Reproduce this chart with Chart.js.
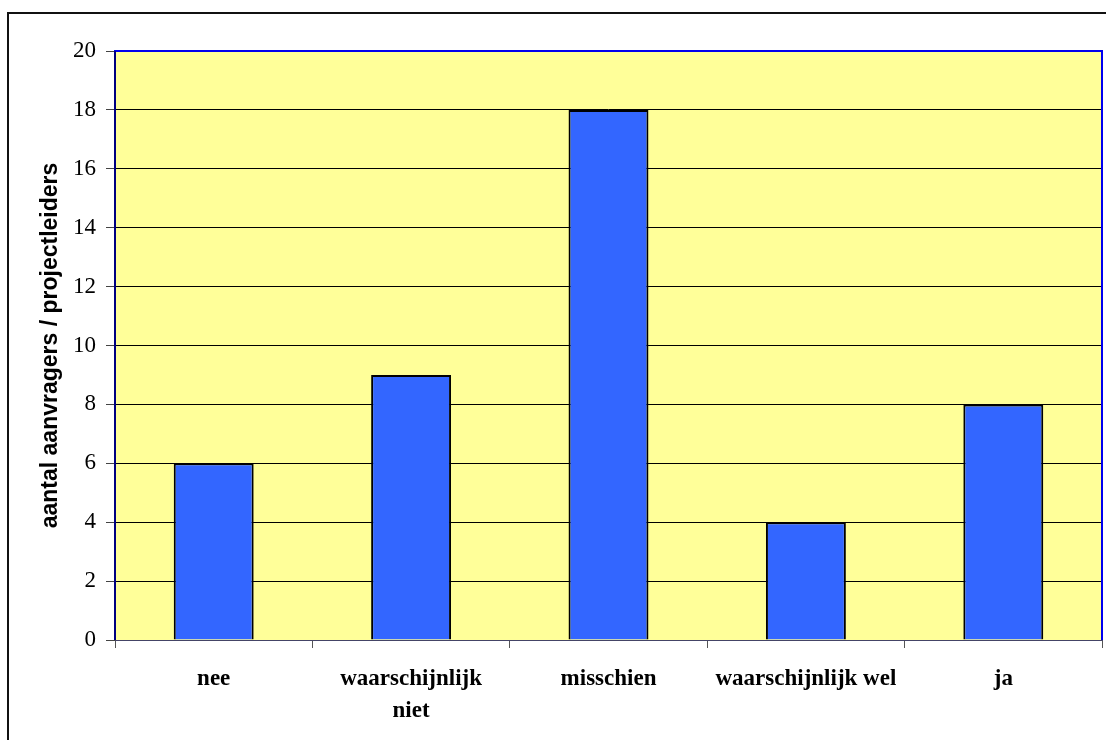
<!DOCTYPE html>
<html>
<head>
<meta charset="utf-8">
<script src="https://cdn.jsdelivr.net/npm/chart.js@4.4.0/dist/chart.umd.min.js"></script>
<style>
    html, body { margin: 0; padding: 0; background: #fff; }
    #wrap { position: relative; width: 1106px; height: 740px; overflow: hidden; }
    #frame { position: absolute; left: 7px; top: 12px; width: 1200px; height: 800px;
             border-left: 2px solid #111; border-top: 2px solid #111; pointer-events: none; }
    canvas { position: absolute; left: 0; top: 0; }
</style>
</head>
<body>
<div id="wrap">
    <canvas id="chart" width="1106" height="740"></canvas>
    <div id="frame"></div>
</div>
<script>
const categories = ['nee', ['waarschijnlijk', 'niet'], 'misschien', 'waarschijnlijk wel', 'ja'];
const counts = [6, 9, 18, 4, 8];
const yTicks = [0, 2, 4, 6, 8, 10, 12, 14, 16, 18, 20];
const yTitle = 'aantal aanvragers / projectleiders';

// yellow plot background + blue frame on the plot area
const plotArea = {
    id: 'plotArea',
    beforeDraw(chart) {
        const { ctx, chartArea: a } = chart;
        ctx.save();
        ctx.fillStyle = '#FFFF99';
        ctx.fillRect(a.left, a.top, a.right - a.left, a.bottom - a.top);
        ctx.restore();
    },
    afterDraw(chart) {
        const { ctx, chartArea: a } = chart;
        ctx.save();
        ctx.strokeStyle = '#0000EE';
        ctx.lineWidth = 2;
        ctx.beginPath();
        ctx.moveTo(a.left, a.bottom);
        ctx.lineTo(a.left, a.top);
        ctx.lineTo(a.right, a.top);
        ctx.lineTo(a.right, a.bottom);
        ctx.stroke();
        ctx.strokeStyle = '#000080';
        ctx.beginPath();
        ctx.moveTo(a.left, a.top);
        ctx.lineTo(a.left, a.bottom);
        ctx.stroke();
        ctx.restore();
    }
};

new Chart(document.getElementById('chart'), {
    type: 'bar',
    data: {
        labels: categories,
        datasets: [{
            data: counts,
            backgroundColor: '#3366FF',
            borderColor: '#000000',
            borderWidth: 2,
            categoryPercentage: 1,
            barPercentage: 0.405
        }]
    },
    options: {
        responsive: false,
        animation: false,
        layout: { padding: { top: 51, right: 4, left: 0, bottom: 0 } },
        plugins: {
            legend: { display: false },
            tooltip: { enabled: false }
        },
        scales: {
            x: {
                afterFit(scale) { scale.height = 100; },
                grid: {
                    offset: true,
                    drawOnChartArea: false,
                    color: '#555',
                    tickLength: 8
                },
                border: { color: '#444466', width: 1 },
                ticks: {
                    color: '#000',
                    padding: 16,
                    maxRotation: 0,
                    autoSkip: false,
                    font: { family: '"Liberation Serif", "Times New Roman", serif', size: 23, weight: 'bold', lineHeight: 1.35 }
                }
            },
            y: {
                min: 0,
                max: 20,
                afterFit(scale) { scale.width = 115; },
                afterBuildTicks(scale) { scale.ticks = yTicks.map(v => ({ value: v })); },
                grid: {
                    color: '#000',
                    lineWidth: 1,
                    tickLength: 9,
                    tickColor: '#444'
                },
                border: { display: false },
                ticks: {
                    color: '#000',
                    padding: 10,
                    font: { family: '"Liberation Serif", "Times New Roman", serif', size: 23 }
                },
                title: {
                    display: true,
                    text: yTitle,
                    color: '#000',
                    padding: { top: 37, bottom: 0 },
                    font: { family: '"Liberation Sans", Arial, sans-serif', size: 23, weight: 'bold' }
                }
            }
        }
    },
    plugins: [plotArea]
});
</script>
</body>
</html>
